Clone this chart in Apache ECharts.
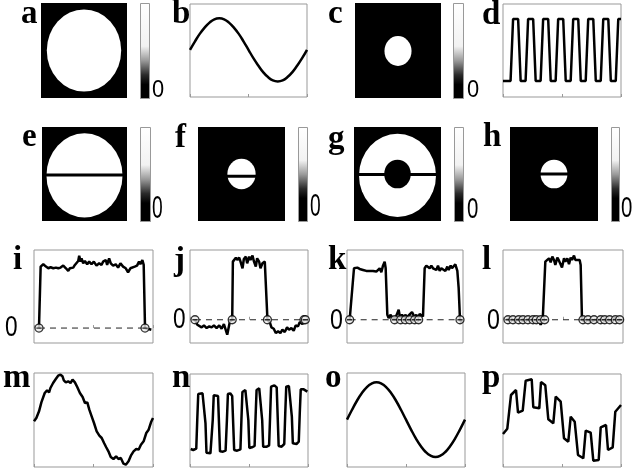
<!DOCTYPE html>
<html><head><meta charset="utf-8">
<script src="https://cdn.jsdelivr.net/npm/echarts@6/dist/echarts.min.js"></script>
<style>html,body{margin:0;padding:0;background:#fff}#c{width:635px;height:474px}</style>
</head><body><div id="c"></div>
<script>
// ---------------- DATA ----------------
// panel b / o : sinusoids (sample index 0..24)
const sineB = [142,167,190,209,224,234,237,234,224,209,190,167,142,117,95,75,60,50,47,50,60,75,95,117,142];
const sineO = [142,171,198,221,239,250,254,250,239,221,198,171,142,113,86,63,45,34,30,34,45,63,86,113,142];
// panel d : square wave [x, y]
const squareD = [[0,16],[7.5,16],[10,78],[15,78],[17.5,16],[22.4,16],[24.9,78],[29.9,78],[32.4,16],[37.3,16],[39.8,78],[44.8,78],[47.3,16],[52.2,16],[54.7,78],[59.7,78],[62.2,16],[67.1,16],[69.6,78],[74.6,78],[77.1,16],[82,16],[84.5,78],[89.5,78],[92,16],[96.9,16],[99.4,78],[104.4,78],[106.9,16],[111.8,16],[114.3,78],[117,78]];
// panels i-l : profiles with zero crossings
const profileI = [[15,0],[20,185],[28,192],[36,185],[43,180],[50,183],[58,180],[66,182],[73,180],[80,182],[88,188],[96,180],[103,172],[108,180],[113,185],[118,182],[123,190],[128,185],[133,202],[136,218],[140,200],[143,210],[148,195],[153,202],[160,192],[166,200],[173,192],[180,200],[188,188],[196,195],[203,190],[208,200],[216,205],[220,190],[226,210],[231,195],[238,188],[246,192],[253,182],[260,195],[268,185],[276,180],[283,168],[290,180],[296,175],[303,185],[310,188],[316,200],[320,192],[326,205],[330,190],[334,0],[353,-5]];
const profileJ = [[15,0],[22,-15],[28,-13],[35,-23],[42,-17],[50,-25],[58,-20],[65,-23],[72,-17],[80,-25],[88,-17],[95,-27],[102,-13],[108,-17],[112,-45],[116,-50],[120,-5],[127,0],[129,175],[134,180],[138,187],[142,180],[148,187],[152,175],[158,155],[162,183],[168,190],[172,170],[178,190],[182,180],[188,193],[192,177],[198,160],[202,185],[208,175],[212,155],[218,170],[225,175],[230,170],[233,0],[240,-7],[245,-23],[252,-27],[258,-40],[265,-35],[272,-40],[278,-30],[285,-37],[292,-23],[298,-30],[305,-25],[312,-33],[318,-17],[325,-20],[330,-7],[338,-13],[345,0]];
const profileK = [[8,0],[13,0],[21,155],[25,150],[31,157],[38,153],[43,155],[48,150],[53,153],[58,147],[63,151],[68,147],[73,153],[78,147],[83,150],[88,145],[93,140],[98,155],[103,143],[108,163],[113,175],[116,155],[121,15],[125,5],[131,15],[135,7],[141,11],[145,5],[151,20],[155,30],[159,7],[165,15],[171,5],[175,15],[181,5],[185,13],[191,7],[195,23],[199,27],[203,7],[208,15],[213,5],[218,17],[223,13],[228,10],[233,155],[238,163],[243,167],[248,155],[253,163],[258,155],[263,160],[268,150],[273,163],[278,147],[283,155],[288,157],[295,147],[301,160],[305,150],[311,163],[315,155],[321,153],[325,167],[328,173],[331,147],[335,95],[339,0],[343,-7]];
const profileL = [[10,0],[20,5],[35,-3],[50,3],[65,-3],[80,3],[95,-7],[105,5],[113,-15],[119,-3],[123,0],[127,175],[133,177],[138,185],[143,173],[148,190],[153,180],[157,165],[163,187],[167,180],[173,183],[177,157],[183,185],[187,175],[193,185],[198,167],[203,187],[207,180],[213,193],[217,180],[223,185],[230,180],[233,165],[237,0],[245,-5],[255,0],[265,-7],[275,0],[285,-3],[295,3],[305,-3],[315,0],[325,-3],[335,5],[345,-3],[355,0]];
const zerosI = [15, 334];
const zerosJ = [15, 127, 233, 343, 347];
const zerosK = [8, 143, 161, 175, 188, 203, 215, 339];
const zerosL = [15, 30, 47, 60, 75, 90, 100, 113, 125, 240, 255, 273, 293, 305, 320, 337, 350];
// panels m, n, p : reconstructed signals
const signalM = [[0,137],[7,147],[15,167],[22,194],[32,222],[39,230],[45,224],[49,237],[57,252],[65,264],[72,274],[79,277],[85,272],[89,260],[95,254],[102,257],[109,252],[115,262],[122,254],[129,240],[137,222],[145,210],[152,192],[159,194],[165,172],[172,152],[179,132],[187,107],[195,94],[202,87],[209,72],[215,60],[222,47],[229,30],[237,24],[245,32],[252,24],[259,27],[267,10],[274,7],[282,17],[289,34],[297,47],[305,54],[312,52],[319,67],[327,77],[335,102],[342,112],[349,134],[355,147]];
const signalN = [[2,54],[10,51],[19,55],[22,141],[25,219],[30,223],[38,221],[44,217],[47,131],[50,43],[56,39],[62,41],[66,47],[69,141],[72,215],[78,219],[85,213],[88,131],[91,47],[100,46],[108,49],[112,141],[115,219],[122,221],[128,213],[131,131],[134,51],[143,49],[153,53],[156,141],[159,225],[168,231],[174,229],[177,141],[180,57],[188,59],[196,63],[199,151],[202,231],[210,236],[216,231],[219,141],[222,61],[233,61],[240,65],[243,151],[246,241],[256,245],[263,239],[266,151],[269,63],[278,61],[286,69],[289,161],[292,241],[300,243],[306,239],[309,151],[312,71],[323,69],[330,76],[333,161],[336,233],[345,233],[350,229],[356,226]];
const signalP = [[0,33],[4.3,38.3],[8,72],[13,77],[15,54.3],[19.7,56.3],[22.7,86.3],[28.7,87.7],[30.3,59.7],[36.3,58.7],[38,85],[42.3,81.7],[45.3,47.7],[50.3,43.7],[52.7,70.3],[57.7,65.3],[61,28.7],[65.3,25.3],[67.7,50.3],[71.7,45.3],[75,12],[80.3,8.7],[82.7,36.3],[87.7,34.3],[90.3,6.3],[95.7,7],[97.7,39.7],[103,42],[105,17],[109.7,19.7],[112.3,55.3],[118,62]];
// image panels: disks [cx, cy, radius, intensity(0 black..1 white)], image spans -1..1
const disksA = [[0, 0, 0.865, 1]];
const disksC = [[0, -0.01, 0.315, 1]];
const disksE = [[0, -0.03, 0.895, 1]];
const disksF = [[0, 0.0, 0.325, 1]];
const disksG = [[0, -0.03, 0.885, 1], [0, 0, 0.305, 0]];
const disksH = [[0, 0, 0.305, 1]];
// dark horizontal cut through the disk (y position)
const cutE = [-0.02], cutF = [-0.05], cutG = [-0.01], cutH = [0.0];
const panelLetters = ['a','b','c','d','e','f','g','h','i','j','k','l','m','n','o','p'];

// ---------------- LAYOUT ----------------
const box = {
  a:[41,3,86,95], b:[190,4,117,93], c:[355,3,86,95], d:[503,4,118,93],
  e:[42,127,85,94], f:[198,127,87,94], g:[354,127,87,94], h:[510,127,88,94],
  i:[34,250,119,93], j:[190,250,118,93], k:[347,250,116,93], l:[503,250,120,93],
  m:[34,373,119,94], n:[190,374,118,93], o:[347,373,118,94], p:[503,374,118,93]
};
const letterPos = {a:[21,25],b:[172,25],c:[328,25],d:[482,26],e:[22,148],f:[175,149],g:[328,150],h:[483,148],
  i:[13,271],j:[174,272],k:[328,271],l:[482,271],m:[3,389],n:[172,389],o:[325,389],p:[482,389]};
const cbars = {a:[140,3,9,95,0.45], c:[453,3,10,95,0.45], e:[140,127,10,94,0.4], f:[298,127,9,94,0.35], g:[454,127,9,94,0.4], h:[611,127,8,94,0.35]};

const MINUS = 'path://M1,10a9,9 0 1,0 18,0a9,9 0 1,0 -18,0zM4,10h12';

const grids=[], xAxes=[], yAxes=[], series=[], graphics=[];
function addPanel(b, xr, yr, bg, border, ticks){
  grids.push({left:b[0], top:b[1], width:b[2], height:b[3], show:true, backgroundColor:bg,
    borderColor:border||'transparent', borderWidth:border?1:0});
  const gi = grids.length-1;
  const step = (xr[1]-xr[0])/2;
  xAxes.push({type:'value', gridIndex:gi, min:xr[0], max:xr[1], interval:step,
    axisLine:{show:false}, axisLabel:{show:false}, splitLine:{show:false},
    axisTick:{show:!!ticks, inside:true, length:3, lineStyle:{color:'#999'}}});
  yAxes.push({type:'value', gridIndex:gi, min:yr[0], max:yr[1],
    axisLine:{show:false}, axisLabel:{show:false}, splitLine:{show:false}, axisTick:{show:false}});
  return gi;
}
function lineSeries(ai, data, smooth, w){
  series.push({type:'line', xAxisIndex:ai, yAxisIndex:ai, data:data, showSymbol:false, smooth:!!smooth,
    silent:true, z:3, lineStyle:{color:'#000', width:w||2.5}});
}
function zeroSeries(ai, zeros){
  series.push({type:'line', xAxisIndex:ai, yAxisIndex:ai, silent:true, z:2, showSymbol:false,
    data:[[zeros[0],0],[zeros[zeros.length-1],0]], lineStyle:{color:'#222', width:1, type:[6,5]}});
  series.push({type:'scatter', xAxisIndex:ai, yAxisIndex:ai, silent:true, z:5,
    data:zeros.map(x=>[x,0]), symbol:MINUS, symbolSize:8,
    itemStyle:{color:'#e8e8e8', borderColor:'#000', borderWidth:1.3}});
}
function imagePanel(b, disks, cut){
  const ai = addPanel(b, [-1,1], [-1,1], '#000', null, false);
  series.push({type:'custom', xAxisIndex:ai, yAxisIndex:ai, data:disks, clip:true, silent:true, z:2,
    renderItem:function(p, api){
      const c = api.coord([api.value(0), api.value(1)]);
      const s = api.size([api.value(2), api.value(2)]);
      const g = Math.round(api.value(3)*255);
      return {type:'circle', x:c[0], y:c[1], scaleY:s[1]/s[0], shape:{cx:0, cy:0, r:s[0]},
        style:{fill:'rgb('+g+','+g+','+g+')'}};
    }});
  if (cut) {
    series.push({type:'custom', xAxisIndex:ai, yAxisIndex:ai, data:cut.map(y=>[0,y]), clip:true, silent:true, z:4,
      renderItem:function(p, api){
        const a = api.coord([-1, api.value(1)]), e = api.coord([1, api.value(1)]);
        return {type:'line', shape:{x1:a[0], y1:a[1], x2:e[0], y2:e[1]}, style:{stroke:'#000', lineWidth:3}};
      }});
  }
}

// row 1
imagePanel(box.a, disksA, null);
let ai = addPanel(box.b, [0,24], [0,280], '#fff', '#999', true);
lineSeries(ai, sineB.map((v,k)=>[k,v]), true);
imagePanel(box.c, disksC, null);
ai = addPanel(box.d, [0,117], [0,93], '#fff', '#999', true);
lineSeries(ai, squareD, false);
// row 2
imagePanel(box.e, disksE, cutE);
imagePanel(box.f, disksF, cutF);
imagePanel(box.g, disksG, cutG);
imagePanel(box.h, disksH, cutH);
// row 3
ai = addPanel(box.i, [0,358], [-45,235], '#fff', '#999', true);
lineSeries(ai, profileI); zeroSeries(ai, zerosI);
ai = addPanel(box.j, [0,355], [-70,210], '#fff', '#999', true);
lineSeries(ai, profileJ); zeroSeries(ai, zerosJ);
ai = addPanel(box.k, [0,348], [-70,210], '#fff', '#999', true);
lineSeries(ai, profileK); zeroSeries(ai, zerosK);
ai = addPanel(box.l, [0,360], [-70,210], '#fff', '#999', true);
lineSeries(ai, profileL); zeroSeries(ai, zerosL);
// row 4
ai = addPanel(box.m, [0,355], [0,282], '#fff', '#999', true);
lineSeries(ai, signalM);
ai = addPanel(box.n, [0,358], [0,279], '#fff', '#999', true);
lineSeries(ai, signalN);
ai = addPanel(box.o, [0,24], [0,282], '#fff', '#999', true);
lineSeries(ai, sineO.map((v,k)=>[k,v]), true);
ai = addPanel(box.p, [0,118], [0,93], '#fff', '#999', true);
lineSeries(ai, signalP);

// panel letters
panelLetters.forEach(function(ch){
  const p = letterPos[ch];
  graphics.push({type:'text', x:p[0], y:p[1]-11, silent:true,
    style:{text:ch, font:'bold 33px "Liberation Serif"', fill:'#000', align:'left', verticalAlign:'middle'}});
});
// colour bars
Object.keys(cbars).forEach(function(k){
  const c = cbars[k];
  graphics.push({type:'rect', silent:true, shape:{x:c[0]+0.5, y:c[1]+0.5, width:c[2], height:c[3]},
    style:{fill:new echarts.graphic.LinearGradient(0,0,0,1,[
      {offset:0,color:'#fff'},{offset:c[4],color:'#f2f2f2'},{offset:c[4]+0.15,color:'#9a9a9a'},
      {offset:c[4]+0.3,color:'#2a2a2a'},{offset:c[4]+0.4,color:'#000'},{offset:1,color:'#000'}]),
      stroke:'#999', lineWidth:1}});
});
// zero labels
const zeroLabels = [[152,90.5,23,0.95],[467,90.5,23,0.95],
  [152,209,31,0.62],[310,207,31,0.62],[467,210,30,0.68],[621,209,30,0.68],
  [5,328,29,0.78],[173,320,29,0.78],[330,321,29,0.8],[487,321,29,0.8]];
zeroLabels.forEach(function(z){
  graphics.push({type:'text', x:z[0], y:z[1], scaleX:z[3], silent:true,
    style:{text:'0', font:z[2]+'px "Liberation Sans"', fill:'#000', align:'left', verticalAlign:'middle'}});
});

const chart = echarts.init(document.getElementById('c'));
chart.setOption({animation:false, grid:grids, xAxis:xAxes, yAxis:yAxes, series:series, graphic:graphics});
</script></body></html>
